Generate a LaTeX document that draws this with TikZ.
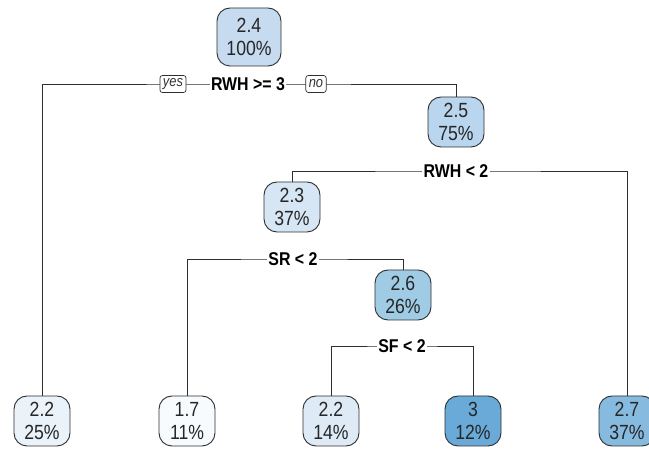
\documentclass[tikz,border=0pt]{standalone}
\usepackage{fontspec}
\setmainfont{Liberation Sans}
\newfontfamily\condfont[FakeStretch=0.86]{Liberation Sans}
\usetikzlibrary{shapes.misc}
\definecolor{edgec}{HTML}{2E2E2E}
\definecolor{c24}{HTML}{C6DBEF}
\definecolor{c25}{HTML}{B9D6EE}
\definecolor{c23}{HTML}{D6E6F4}
\definecolor{c26}{HTML}{9FCBE5}
\definecolor{cl1}{HTML}{EAF2FA}
\definecolor{cl2}{HTML}{F8FBFE}
\definecolor{cl3}{HTML}{DEEBF7}
\definecolor{cl4}{HTML}{6AAAD8}
\definecolor{cl5}{HTML}{86BBDF}
\tikzset{
  tnode/.style={draw=edgec, line width=0.9pt, rounded corners=13pt, minimum width=56pt, minimum height=50pt,
    align=center, inner sep=0pt, font=\condfont\fontsize{20.5}{23}\selectfont, text=black!85},
  split/.style={fill=white, inner xsep=1.5pt, inner ysep=2pt, font=\condfont\fontsize{18.5}{20}\selectfont\bfseries},
  yn/.style={draw=edgec, fill=white, rounded corners=2.5pt, line width=0.7pt, inner xsep=3pt, inner ysep=2.5pt,
    minimum height=17pt, font=\condfont\fontsize{15}{16}\selectfont\itshape, text=black!80},
  conn/.style={draw=edgec, line width=0.9pt}
}
\begin{document}
\begin{tikzpicture}[x=1pt,y=-1pt]
\useasboundingbox (0,0) rectangle (649,449);
% nodes
\node[tnode, fill=c24, minimum width=64pt, minimum height=58pt] (n1) at (249,37) {2.4\\100\%};
\node[tnode, fill=c25] (n2) at (456,122) {2.5\\75\%};
\node[tnode, fill=c23] (n3) at (292,207) {2.3\\37\%};
\node[tnode, fill=c26] (n4) at (403,295) {2.6\\26\%};
\node[tnode, fill=cl1] (l1) at (42,421) {2.2\\25\%};
\node[tnode, fill=cl2] (l2) at (187,421) {1.7\\11\%};
\node[tnode, fill=cl3] (l3) at (331,421) {2.2\\14\%};
\node[tnode, fill=cl4] (l4) at (473,421) {3\\12\%};
\node[tnode, fill=cl5] (l5) at (627,421) {2.7\\37\%};
% split coordinates
\coordinate (s1) at (248,84);
\coordinate (s2) at (456,171);
\coordinate (s3) at (293,259);
\coordinate (s4) at (402,346);
% connectors
\draw[conn] (l1.north) |- (s1) -| (n2.north);
\draw[conn] (n3.north) |- (s2) -| (l5.north);
\draw[conn] (l2.north) |- (s3) -| (n4.north);
\draw[conn] (l3.north) |- (s4) -| (l4.north);
% split labels
\node[split] (t1) at (s1) {RWH >= 3};
\node[split] (t2) at (s2) {RWH < 2};
\node[split] (t3) at (s3) {SR < 2};
\node[split] (t4) at (s4) {SF < 2};
\node[yn] (yes) at (173,84) {yes};
\node[yn] (no) at (316,84) {no};
\end{tikzpicture}
\end{document}
